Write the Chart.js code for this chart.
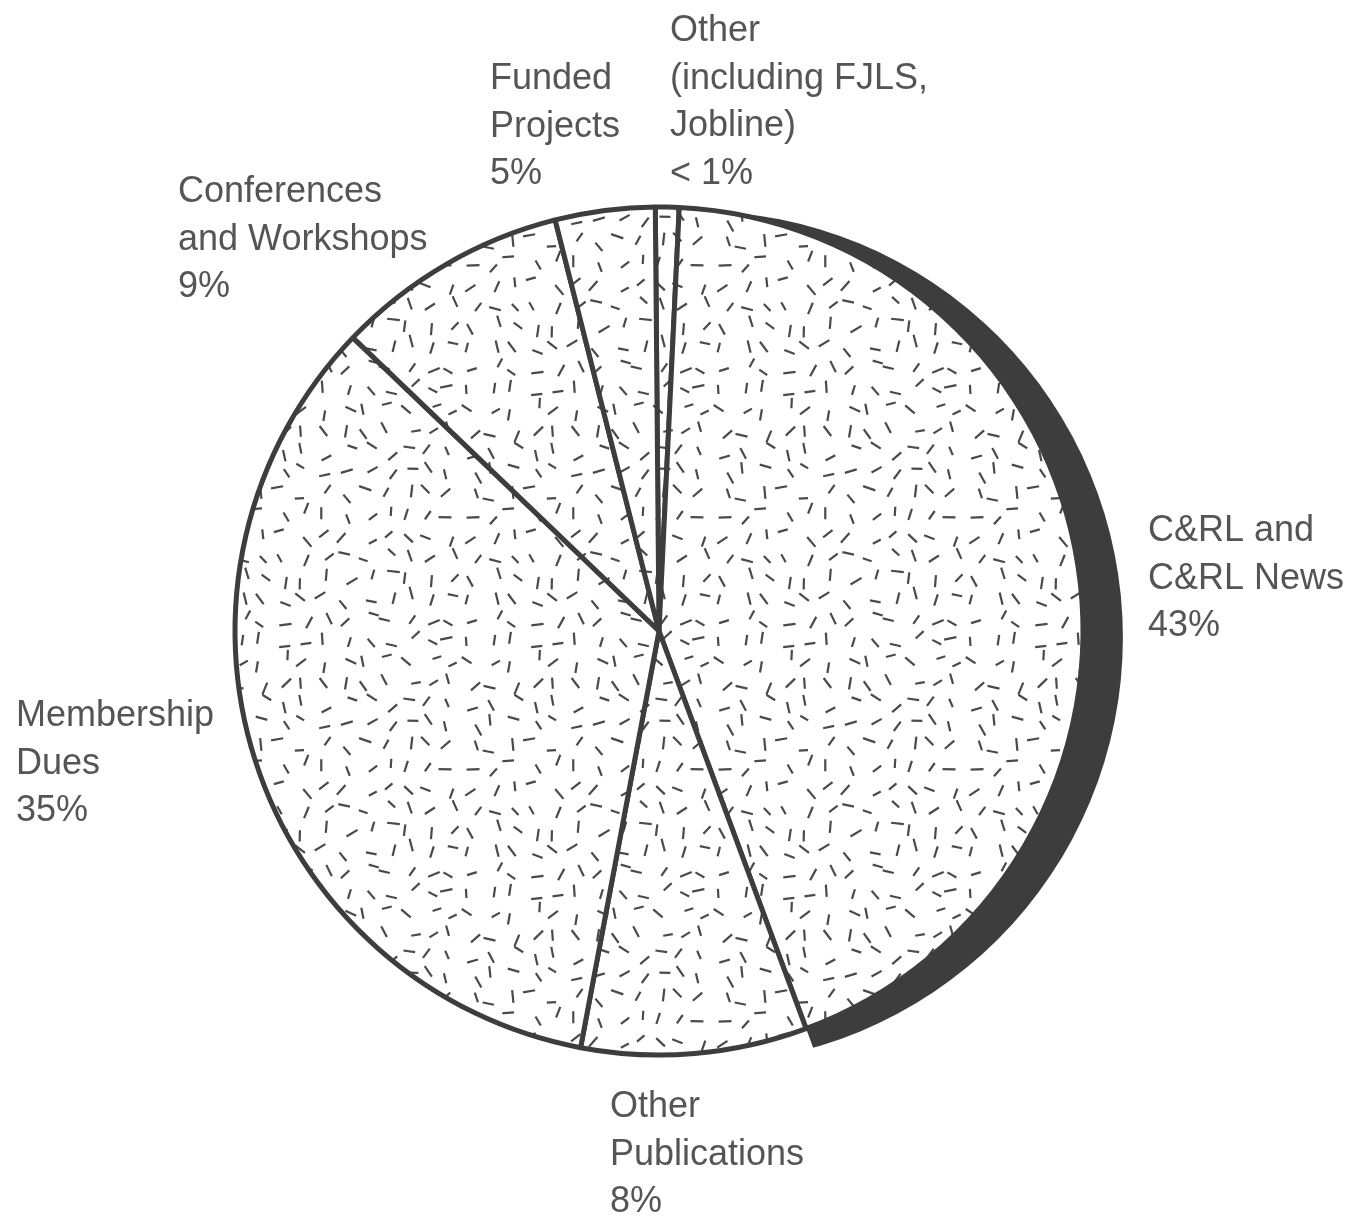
<!DOCTYPE html>
<html lang="en">
<head>
  <meta charset="UTF-8" />
  <title>Revenue sources</title>
  <script src="https://cdn.jsdelivr.net/npm/chart.js"></script>
  <style>
    html, body {
      margin: 0;
      padding: 0;
      background: #fff;
    }
    .chart-box {
      width: 1367px;
      height: 1218px;
      position: relative;
    }
  </style>
</head>
<body>
  <div class="chart-box">
    <canvas id="pie"></canvas>
  </div>

  <script>
    // slices, clockwise from the top
    const categories = [
      'Other (including FJLS, Jobline)',
      'C&RL and C&RL News',
      'Other Publications',
      'Membership Dues',
      'Conferences and Workshops',
      'Funded Projects'
    ];
    // slice sizes as drawn (percent)
    const shares = [0.9, 43.6, 8.6, 34.2, 8.9, 3.8];
    // printed label text, one array per slice
    const labelLines = [
      ['Other', '(including FJLS,', 'Jobline)', '< 1%'],
      ['C&RL and', 'C&RL News', '43%'],
      ['Other', 'Publications', '8%'],
      ['Membership', 'Dues', '35%'],
      ['Conferences', 'and Workshops', '9%'],
      ['Funded', 'Projects', '5%']
    ];

    const ink = '#3d3d3d';
    const textColor = '#555';

    // speckle texture: short dashes on a jittered grid
    function seeded(seed) {
      return function() {
        seed |= 0; seed = seed + 0x6D2B79F5 | 0;
        let t = Math.imul(seed ^ seed >>> 15, 1 | seed);
        t = t + Math.imul(t ^ t >>> 7, 61 | t) ^ t;
        return ((t ^ t >>> 14) >>> 0) / 4294967296;
      };
    }
    function makeSpeckle() {
      const cell = 21, n = 12, size = cell * n;
      const c = document.createElement('canvas');
      c.width = size; c.height = size;
      const g = c.getContext('2d');
      g.fillStyle = '#fff';
      g.fillRect(0, 0, size, size);
      g.strokeStyle = '#4a4a4a';
      g.lineWidth = 2.2;
      g.lineCap = 'butt';
      const rnd = seeded(7);
      for (let i = 0; i < n; i++) {
        for (let j = 0; j < n; j++) {
          const cx = i * cell + 4 + rnd() * (cell - 8);
          const cy = j * cell + 4 + rnd() * (cell - 8);
          const a = rnd() * Math.PI;
          const len = 9 + rnd() * 4;
          const ux = Math.cos(a) * len / 2, uy = Math.sin(a) * len / 2;
          for (const ox of [-size, 0, size]) {
            for (const oy of [-size, 0, size]) {
              g.beginPath();
              g.moveTo(cx - ux + ox, cy - uy + oy);
              g.lineTo(cx + ux + ox, cy + uy + oy);
              g.stroke();
            }
          }
        }
      }
      return document.getElementById('pie').getContext('2d').createPattern(c, 'repeat');
    }

    // dark rim behind the C&RL slice (offset circle, clipped to its wedge)
    const rimPlugin = {
      id: 'rim',
      beforeDatasetsDraw(chart) {
        const arc = chart.getDatasetMeta(0).data[1];
        const p = arc.getProps(['x', 'y', 'startAngle', 'endAngle', 'outerRadius'], true);
        const ctx = chart.ctx;
        ctx.save();
        ctx.beginPath();
        ctx.moveTo(p.x, p.y);
        ctx.arc(p.x, p.y, p.outerRadius + 200, p.startAngle, p.endAngle);
        ctx.closePath();
        ctx.clip();
        ctx.beginPath();
        ctx.arc(p.x + 37.4, p.y + 6.6, p.outerRadius + 2.5, 0, Math.PI * 2);
        ctx.fillStyle = ink;
        ctx.fill();
        ctx.restore();
      }
    };

    // label blocks, placed relative to the pie centre (left edge, first line middle)
    const labelOffsets = [
      [11, -603],
      [489, -103],
      [-49, 473],
      [-643, 82],
      [-481, -442],
      [-169, -555]
    ];
    const labelPlugin = {
      id: 'sliceLabels',
      afterDraw(chart) {
        const arc = chart.getDatasetMeta(0).data[0];
        const ctx = chart.ctx;
        ctx.save();
        ctx.font = '36px "Liberation Sans", Arial, sans-serif';
        ctx.fillStyle = textColor;
        ctx.textAlign = 'left';
        ctx.textBaseline = 'alphabetic';
        labelLines.forEach((lines, i) => {
          const [dx, dy] = labelOffsets[i];
          lines.forEach((line, k) => {
            ctx.fillText(line, arc.x + dx, arc.y + dy + 13 + k * 47.7);
          });
        });
        ctx.restore();
      }
    };

    const speckle = makeSpeckle();

    new Chart(document.getElementById('pie'), {
      type: 'pie',
      data: {
        labels: categories,
        datasets: [{
          data: shares,
          backgroundColor: speckle,
          borderColor: ink,
          borderWidth: 5,
          radius: 424
        }]
      },
      options: {
        responsive: true,
        maintainAspectRatio: false,
        animation: false,
        events: [],
        rotation: -0.5,
        layout: { padding: { left: 0, right: 49, top: 44, bottom: 0 } },
        plugins: {
          legend: { display: false },
          tooltip: { enabled: false }
        }
      },
      plugins: [rimPlugin, labelPlugin]
    });
  </script>
</body>
</html>
